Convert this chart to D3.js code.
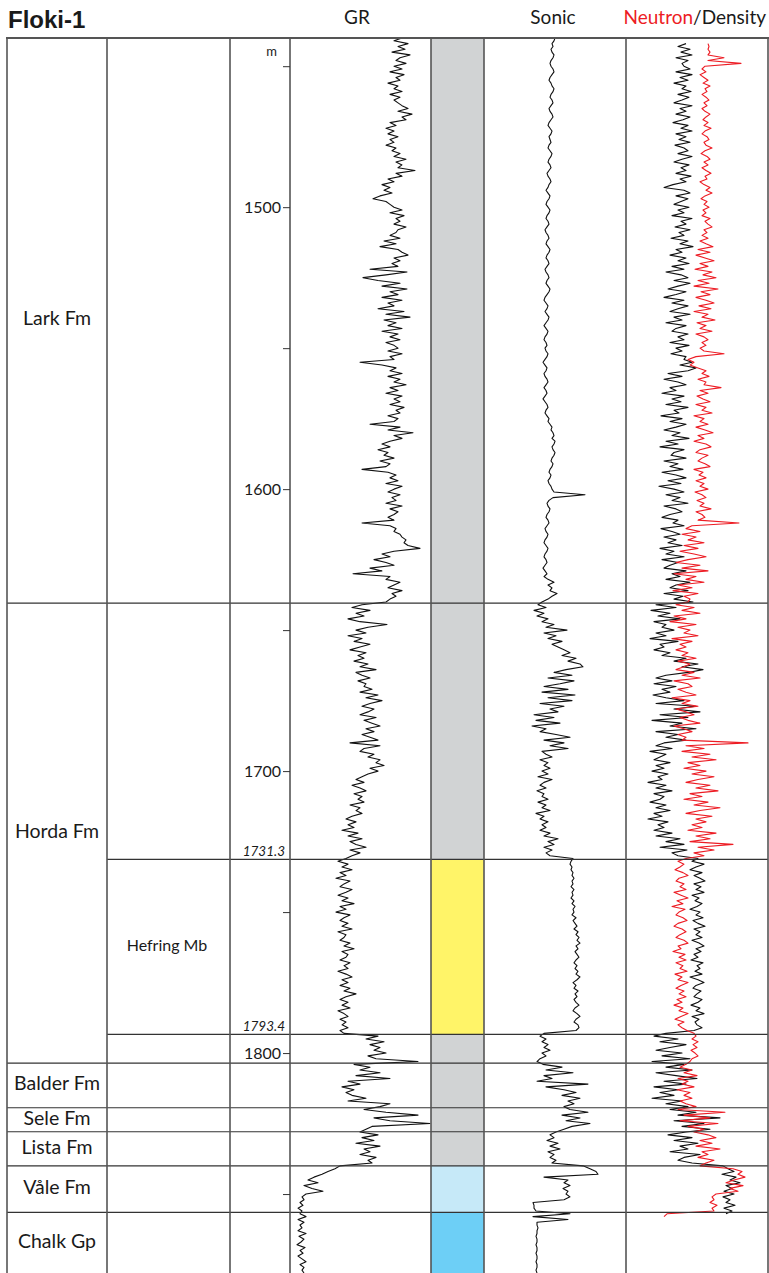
<!DOCTYPE html>
<html>
<head>
<meta charset="utf-8">
<script src="https://cdn.jsdelivr.net/npm/d3@7"></script>
<style>
  body { margin: 0; background: #fff; }
  text { font-family: Lato, "Open Sans", sans-serif; fill: #1a1a1a; }
</style>
</head>
<body>
<div id="chart"></div>
<script>
// well and zonation
const wellName = "Floki-1";
const formationNames = ["Lark Fm", "Horda Fm", "Balder Fm", "Sele Fm", "Lista Fm", "Våle Fm", "Chalk Gp"];
const formationTops = [1440, 1640.4, 1803.6, 1819.4, 1827.9, 1840, 1856.5];
const memberNames = ["Hefring Mb"];
const memberTops = [1731.3];
const memberBases = [1793.4];
const lithoTops = [1440, 1731.3, 1793.4, 1840, 1856.5];
const lithoColors = ["#d1d3d4", "#fff468", "#d1d3d4", "#c6e9f8", "#6dcff6"];
const depthTicks = [1450, 1500, 1550, 1600, 1650, 1700, 1750, 1800, 1850];
const depthLabels = [1500, 1600, 1700, 1800];
const depthMarks = [1731.3, 1793.4];
const logTop = 1440;
const logBase = 1878;
const trackTitles = ["GR", "Sonic"];

// log samples, 1 m spacing, one row per 10 m starting at 1440 m
const grRows = [
  [112,104,118,108,115,102,120,110,106,116],
  [104,112,100,114,106,110,98,108,104,112],
  [100,110,104,108,112,118,108,122,112,116],
  [100,106,96,104,98,108,100,104,96,106],
  [102,110,104,116,106,112,108,125,106,112],
  [98,104,92,100,94,102,90,83,96,100],
  [104,112,100,114,106,110,104,116,108,106],
  [100,110,94,106,90,108,112,118,104,110],
  [102,108,80,117,96,73,88,110,92,117],
  [100,108,92,112,98,104,88,114,96,120],
  [94,106,98,112,92,108,100,110,96,104],
  [108,98,112,100,104,70,92,106,100,112],
  [98,110,104,116,100,108,96,112,104,110],
  [100,114,106,110,98,108,104,80,110,98],
  [123,104,112,100,92,100,88,98,94,104],
  [90,100,96,72,98,106,100,108,96,112],
  [104,98,110,102,106,96,112,100,108,104],
  [98,104,72,100,106,104,110,112,116,114],
  [118,130,104,92,100,84,96,104,80,92],
  [63,100,96,110,104,98,112,102,106,100],
  [96,72,62,80,66,74,58,70,97,78],
  [66,76,58,72,64,80,70,60,76,68],
  [74,64,78,70,86,66,72,80,68,76],
  [74,82,70,88,76,92,80,72,84,78],
  [70,86,74,82,90,76,84,72,80,88],
  [60,90,74,70,84,78,90,86,94,80],
  [88,78,72,66,74,62,70,76,64,72],
  [68,74,60,70,66,72,62,56,66,58],
  [64,52,68,58,72,60,66,76,60,70],
  [62,56,48,58,52,62,50,56,46,60],
  [54,50,62,56,48,58,52,64,50,56],
  [46,60,54,50,58,52,62,48,56,54],
  [50,60,54,64,52,58,56,50,60,54],
  [58,48,56,62,52,58,50,60,54,66],
  [56,50,58,52,60,48,54,58,50,56],
  [52,58,50,54,88,76,94,80,90,84],
  [96,78,86,128,64,80,70,90,66,100],
  [58,70,52,64,56,62,76,58,100,90],
  [74,96,128,84,100,140,82,76,70,88],
  [72,84,66,90,74,80,70,86,78,82],
  [50,45,38,32,24,18,28,14,22,33],
  [16,12,14,10,13,8,12,10,16,8],
  [14,10,12,8,16,9,14,11,7,15],
  [10,13,8,12,16,10,14,12,14]
];

const sonicRows = [
  [71,70,68,69,67,68,70,69,67,66],
  [67,69,70,68,66,65,67,68,70,69],
  [67,66,68,69,67,65,66,68,69,67],
  [65,64,66,68,67,65,66,67,65,64],
  [66,68,67,65,64,66,67,65,63,64],
  [66,67,65,64,62,64,66,65,63,62],
  [64,66,65,63,62,64,65,63,61,62],
  [64,65,63,62,64,66,65,63,62,64],
  [65,63,61,62,64,65,63,62,64,66],
  [65,63,61,60,62,64,63,61,63,65],
  [64,62,60,62,64,63,61,60,62,63],
  [61,62,64,63,61,59,61,63,62,60],
  [61,63,64,62,60,62,63,61,59,61],
  [63,64,62,61,63,65,64,66,68,67],
  [69,70,68,71,70,68,69,71,70,68],
  [67,69,68,66,65,67,66,64,65,67],
  [68,70,101,69,65,63,64,66,65,63],
  [62,64,65,63,61,62,64,63,61,60],
  [62,64,63,61,60,62,63,61,59,61],
  [63,60,64,70,64,68,66,73,68,64],
  [58,54,62,50,60,53,64,58,70,62],
  [83,60,72,64,78,68,74,80,86,78],
  [92,84,96,99,82,70,88,64,90,76],
  [60,84,58,91,64,88,56,80,66,74],
  [50,70,52,76,48,62,56,72,86,60],
  [80,66,84,58,62,68,56,64,60,66],
  [58,64,54,68,60,56,62,53,60,58],
  [64,54,62,58,66,52,60,56,64,58],
  [62,56,66,60,74,64,70,60,68,62],
  [66,89,87,86,88,87,89,88,90,88],
  [89,87,90,88,89,87,90,88,91,89],
  [90,88,92,89,91,93,90,94,92,95],
  [93,96,92,94,91,93,95,92,90,93],
  [91,94,92,96,93,89,92,90,94,91],
  [93,90,92,95,91,89,93,96,92,90],
  [94,95,92,60,56,62,58,64,60,66],
  [58,62,56,53,59,78,62,89,60,68],
  [53,104,62,80,92,78,96,84,90,80],
  [86,104,78,96,82,106,88,80,72,66],
  [70,63,74,66,76,64,70,66,72,68],
  [99,106,112,114,60,84,80,86,79,84],
  [82,86,80,49,50,50,52,86,49,84],
  [53,53,54,53,53,52,53,53,52,53],
  [53,52,53,53,52,53,53,52,53]
];

const densityRows = [
  [null,null,60,52,64,55,66,50,62,56],
  [58,64,50,66,54,62,48,60,56,65],
  [52,63,56,48,66,54,60,50,64,57],
  [47,62,55,66,50,60,53,64,49,58],
  [62,52,66,56,48,63,55,60,50,65],
  [54,60,47,38,58,64,50,62,55,48],
  [63,52,58,46,66,55,60,49,64,53],
  [58,45,62,54,67,50,56,44,60,52],
  [63,46,58,40,55,62,48,64,52,42],
  [60,50,38,58,46,62,52,44,64,48],
  [56,40,60,50,46,62,52,58,44,63],
  [50,56,45,60,58,66,54,70,62,42],
  [56,38,52,60,44,50,36,58,46,55],
  [40,62,48,53,35,56,44,60,50,38],
  [54,46,63,40,52,34,58,48,45,60],
  [38,52,44,57,36,50,60,42,55,33],
  [48,58,40,54,46,62,38,50,56,44],
  [36,52,47,58,35,46,54,38,50,42],
  [56,34,48,40,58,36,52,44,38,60],
  [46,54,40,64,50,44,62,38,57,48],
  [67,30,50,25,44,32,54,28,40,36],
  [48,30,40,24,52,34,38,28,44,36],
  [60,48,72,56,77,62,40,30,46,28],
  [50,36,44,27,40,58,30,70,48,74],
  [34,62,26,56,44,70,30,52,40,60],
  [38,30,46,24,40,34,28,44,30,38],
  [26,42,32,36,22,40,30,46,28,38],
  [34,24,40,30,44,28,36,22,42,32],
  [38,28,46,30,54,40,58,34,61,46],
  [52,72,66,78,70,64,76,68,74,79],
  [68,75,70,78,66,73,69,76,71,64],
  [74,70,77,67,72,79,68,74,70,76],
  [66,73,78,70,75,68,72,65,77,71],
  [74,69,76,64,72,78,70,67,75,71],
  [68,76,72,65,74,70,78,66,73,69],
  [71,76,68,40,28,52,34,60,44,30],
  [56,36,64,26,58,40,66,30,50,71],
  [38,60,28,52,34,48,26,56,40,62],
  [44,70,52,94,48,78,56,84,60,42],
  [66,48,72,54,62,44,74,58,52,66],
  [97,102,108,96,110,104,114,100,106,98],
  [108,97,104,100,109,98,106,100]
];

const neutronRows = [
  [null,null,82,83,82,84,82,98,82,115],
  [79,76,80,74,78,82,77,84,79,81],
  [76,80,83,78,81,76,79,84,80,77],
  [82,78,85,79,76,81,83,78,80,86],
  [79,75,81,84,78,82,76,80,85,79],
  [81,74,78,84,80,86,79,75,81,78],
  [83,77,80,76,84,79,82,86,78,81],
  [76,82,74,80,87,72,84,70,79,88],
  [74,82,69,86,77,90,72,83,68,92],
  [75,84,70,80,88,73,85,68,82,76],
  [89,71,80,74,86,70,78,82,76,80],
  [74,78,98,70,62,68,64,72,80,76],
  [83,72,80,78,95,74,82,71,77,84],
  [70,80,76,86,68,78,74,82,70,79],
  [87,72,78,68,80,85,74,70,82,76],
  [72,79,84,68,77,73,80,70,78,74],
  [82,69,76,80,71,78,74,85,70,76],
  [79,72,113,66,60,74,56,70,62,78],
  [58,72,54,68,80,62,50,74,56,82],
  [48,70,60,78,52,66,47,72,58,64],
  [62,50,68,56,74,48,60,44,70,52],
  [64,58,72,46,66,54,60,50,62,56],
  [70,52,64,58,50,68,56,74,48,62],
  [66,52,60,70,46,64,56,72,50,60],
  [68,54,62,74,48,58,66,52,60,56],
  [122,60,78,56,84,66,90,62,74,58],
  [80,66,88,72,60,84,70,92,64,76],
  [58,82,68,94,74,60,86,70,80,66],
  [76,62,90,70,84,64,107,72,88,68],
  [78,60,52,58,54,49,57,62,53,50],
  [58,54,60,48,55,62,51,57,46,59],
  [53,50,57,61,52,48,56,60,54,50],
  [58,62,52,55,47,59,53,60,50,57],
  [54,61,49,56,52,62,55,50,58,53],
  [60,51,56,48,57,53,62,55,49,58],
  [52,56,61,68,70,66,72,67,71,65],
  [69,72,66,64,60,54,66,58,71,52],
  [62,56,68,51,64,58,66,54,60,70],
  [52,99,58,84,54,92,62,78,68,82],
  [90,74,86,70,94,76,82,72,88,80],
  [74,107,116,112,119,108,100,117,104,112],
  [90,86,88,84,91,86,88,41,38]
];

const W = 769, H = 1273;
const svg = d3.select("#chart").append("svg")
  .attr("width", W).attr("height", H)
  .style("display", "block");

svg.append("rect").attr("width", W).attr("height", H).attr("fill", "#fff");

const y = d3.scaleLinear().domain([logTop, logBase]).range([38, 1273]);

// track scales (track units)
const grX = d3.scaleLinear().domain([0, 141]).range([290, 431]);
const sonicX = d3.scaleLinear().domain([0, 142]).range([484, 626]);
const ndX = d3.scaleLinear().domain([0, 142]).range([626, 768]);

function samples(rows) {
  return rows.flatMap((row, r) => row.map((v, i) => ({ depth: logTop + r * 10 + i, v })));
}

// lithology column
const lithoBands = lithoTops.map((t, i) => ({ top: t, base: i < lithoTops.length - 1 ? lithoTops[i + 1] : logBase, color: lithoColors[i] }));
svg.append("g").selectAll("rect").data(lithoBands).enter().append("rect")
  .attr("x", 431).attr("width", 53)
  .attr("y", d => y(d.top)).attr("height", d => y(d.base) - y(d.top))
  .attr("fill", d => d.color);

// curves
const curves = [
  { rows: grRows, x: grX, color: "#111" },
  { rows: sonicRows, x: sonicX, color: "#111" },
  { rows: densityRows, x: ndX, color: "#111" },
  { rows: neutronRows, x: ndX, color: "#ed1c24" }
];
curves.forEach(c => {
  const line = d3.line()
    .defined(d => d.v != null)
    .x(d => c.x(d.v))
    .y(d => y(d.depth));
  svg.append("path")
    .datum(samples(c.rows))
    .attr("d", line)
    .attr("fill", "none")
    .attr("stroke", c.color)
    .attr("stroke-width", 1.1)
    .attr("stroke-linejoin", "round");
});

// formation boundaries (full width) and member boundaries
const grid = svg.append("g").attr("stroke", "#333").attr("stroke-width", 1.2);
formationTops.slice(1).forEach(t => {
  grid.append("line").attr("x1", 7).attr("x2", 768).attr("y1", y(t)).attr("y2", y(t));
});
memberTops.concat(memberBases).forEach(t => {
  grid.append("line").attr("x1", 107).attr("x2", 768).attr("y1", y(t)).attr("y2", y(t));
});

// column frame
const frame = svg.append("g").attr("stroke", "#555").attr("stroke-width", 1.6);
[7, 107, 230, 290, 431, 484, 626, 768].forEach(x => {
  frame.append("line").attr("x1", x).attr("x2", x).attr("y1", 38).attr("y2", H);
});
frame.append("line").attr("x1", 6).attr("x2", 769).attr("y1", 38).attr("y2", 38).attr("stroke-width", 2);

// depth axis
const axis = d3.axisLeft(y)
  .tickValues(depthTicks)
  .tickSize(7)
  .tickPadding(2)
  .tickFormat(d => depthLabels.includes(d) ? d : "");
const ag = svg.append("g").attr("transform", "translate(290,0)").call(axis);
ag.select(".domain").remove();
ag.selectAll(".tick line").attr("stroke", "#333");
ag.selectAll(".tick text").style("font-size", "16px").style("font-family", "Lato, sans-serif").style("fill", "#1a1a1a");

svg.append("text").attr("x", 277).attr("y", 56).attr("text-anchor", "end")
  .style("font-size", "13px").text("m");

svg.selectAll(".mark").data(depthMarks).enter().append("text")
  .attr("class", "mark")
  .attr("x", 285).attr("y", d => y(d) - 3)
  .attr("text-anchor", "end").style("font-size", "13.5px").style("font-style", "italic")
  .text(d => d.toFixed(1));

// formation labels
formationNames.forEach((name, i) => {
  const top = formationTops[i];
  const base = i < formationTops.length - 1 ? formationTops[i + 1] : logBase;
  svg.append("text")
    .attr("x", 57).attr("y", (y(top) + y(base)) / 2)
    .attr("text-anchor", "middle").attr("dominant-baseline", "middle")
    .style("font-size", "19.5px").text(name);
});
memberNames.forEach((name, i) => {
  svg.append("text")
    .attr("x", 167).attr("y", (y(memberTops[i]) + y(memberBases[i])) / 2)
    .attr("text-anchor", "middle").attr("dominant-baseline", "middle")
    .style("font-size", "16px").text(name);
});

// headers
svg.append("text").attr("x", 8).attr("y", 28)
  .style("font-family", "'Liberation Sans', Arial, sans-serif")
  .style("font-weight", "bold").style("font-size", "24px").text(wellName);
svg.append("text").attr("x", 357).attr("y", 24).attr("text-anchor", "middle")
  .style("font-size", "19px").text(trackTitles[0]);
svg.append("text").attr("x", 553).attr("y", 24).attr("text-anchor", "middle")
  .style("font-size", "19px").text(trackTitles[1]);
const nd = svg.append("text").attr("x", 766).attr("y", 24).attr("text-anchor", "end").style("font-size", "19px");
nd.append("tspan").style("fill", "#ed1c24").text("Neutron");
nd.append("tspan").text("/Density");
</script>
</body>
</html>
